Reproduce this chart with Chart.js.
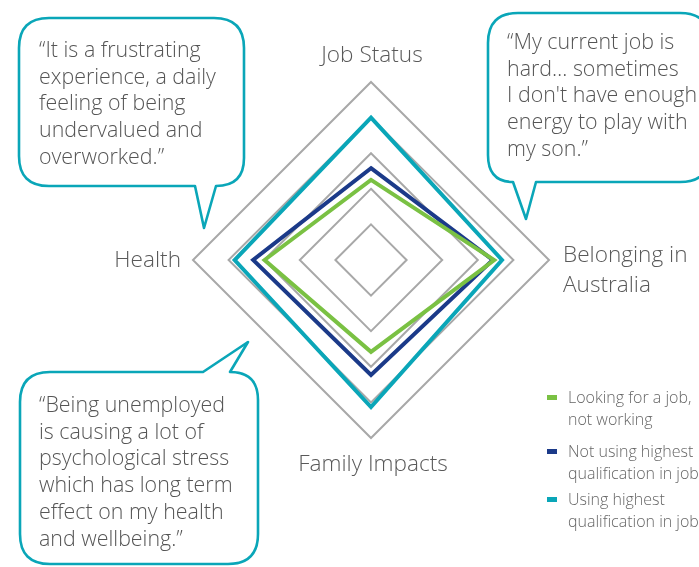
<!DOCTYPE html>
<html>
<head>
<meta charset="utf-8">
<script src="https://cdn.jsdelivr.net/npm/chart.js@4.4.1/dist/chart.umd.min.js"></script>
<style>
  html, body { margin: 0; padding: 0; background: #fff; }
  #wrap { position: relative; width: 699px; height: 567px; overflow: hidden; background: #fff; }
  #c { position: absolute; left: 0; top: 0; }
  svg { position: absolute; left: 0; top: 0; }
  .quote { position: absolute; font-family: "Open Sans", sans-serif; font-weight: 300; font-size: 21.4px; line-height: 26.7px; color: #555; white-space: nowrap; }
  .leg { position: absolute; left: 547px; font-family: "Open Sans", sans-serif; font-weight: 300; font-size: 16px; line-height: 21.5px; color: #666; white-space: nowrap; }
  .leg .sw { position: absolute; left: 0; top: 8px; width: 10px; height: 5px; }
  .leg .tx { position: absolute; left: 21px; top: 0; }
</style>
</head>
<body>
<div id="wrap">
  <canvas id="c" width="699" height="567"></canvas>
  <svg width="699" height="567" viewBox="0 0 699 567">
    <g fill="#fff" stroke="#0aa6b8" stroke-width="2.6" stroke-linejoin="round">
      <path d="M 49 18 H 214 Q 244 18 244 48 V 158 Q 244 186 216 186 L 204 228 L 195 186 H 49 Q 19 186 19 156 V 48 Q 19 18 49 18 Z"/>
      <path d="M 518 13 H 680 Q 710 13 710 43 V 152 Q 710 182 680 182 H 536 L 526 219 L 513 182 Q 488 182 488 155 V 43 Q 488 13 518 13 Z"/>
      <path d="M 50 372 H 203 L 248 342 L 230 372 Q 258 372 258 400 V 534 Q 258 564 228 564 H 50 Q 20 564 20 534 V 402 Q 20 372 50 372 Z"/>
    </g>
  </svg>
  <div id="q1" class="quote" style="left:39px; top:36px;"></div>
  <div id="q2" class="quote" style="left:507px; top:28px;"></div>
  <div id="q3" class="quote" style="left:39px; top:391px;"></div>
  <div id="legend"></div>
</div>
<script>
// ---- data ----
const categories = [['Job Status'], ['Belonging in', 'Australia'], ['Family Impacts'], ['Health']];
const seriesNames = [
  ['Looking for a job,', 'not working'],
  ['Not using highest', 'qualification in job'],
  ['Using highest', 'qualification in job']
];
const lookingForJob = [2.25, 3.46, 2.58, 2.99];
const notUsingQualification = [2.58, 3.42, 3.23, 3.31];
const usingQualification = [4.0, 3.68, 4.13, 3.83];
const tickValues = [1, 2, 3, 4, 5];
const quote1 = ['\u201CIt is a frustrating', 'experience, a daily', 'feeling of being', 'undervalued and', 'overworked.\u201D'];
const quote2 = ['\u201CMy current job is', 'hard\u2026 sometimes', "I don't have enough", 'energy to play with', 'my son.\u201D'];
const quote3 = ['\u201CBeing unemployed', 'is causing a lot of', 'psychological stress', 'which has long term', 'effect on my health', 'and wellbeing.\u201D'];

// ---- styles ----
const colors = ['#7ac143', '#1b3a89', '#0aa6b8'];
const seriesData = [lookingForJob, notUsingQualification, usingQualification];

function fillQuote(id, lines) {
  const el = document.getElementById(id);
  lines.forEach((l, i) => {
    if (i) el.appendChild(document.createElement('br'));
    el.appendChild(document.createTextNode(l));
  });
}
fillQuote('q1', quote1);
fillQuote('q2', quote2);
fillQuote('q3', quote3);

const legendTops = [387, 441, 489];
const legend = document.getElementById('legend');
seriesNames.forEach((name, i) => {
  const g = document.createElement('div');
  g.className = 'leg';
  g.style.top = legendTops[i] + 'px';
  const sw = document.createElement('div');
  sw.className = 'sw';
  sw.style.background = colors[i];
  const tx = document.createElement('div');
  tx.className = 'tx';
  name.forEach((l, j) => {
    if (j) tx.appendChild(document.createElement('br'));
    tx.appendChild(document.createTextNode(l));
  });
  g.appendChild(sw);
  g.appendChild(tx);
  legend.appendChild(g);
});

const labelPlugin = {
  id: 'pointLabelsCustom',
  afterDraw(chart) {
    const s = chart.scales.r;
    const ctx = chart.ctx;
    ctx.save();
    ctx.font = '300 22.6px "Open Sans", sans-serif';
    ctx.fillStyle = '#595959';
    ctx.textBaseline = 'alphabetic';
    categories.forEach((lines, i) => {
      const p = s.getPointPosition(i, s.drawingArea);
      if (i === 0) {
        ctx.textAlign = 'center';
        ctx.fillText(lines[0], p.x + 1, p.y - 20.5);
      } else if (i === 1) {
        ctx.textAlign = 'left';
        lines.forEach((l, j) => ctx.fillText(l, p.x + 14, p.y + 1.7 + j * 30));
      } else if (i === 2) {
        ctx.textAlign = 'center';
        ctx.fillText(lines[0], p.x + 2, p.y + 33);
      } else {
        ctx.textAlign = 'right';
        ctx.fillText(lines[0], p.x - 12, p.y + 6.7);
      }
    });
    ctx.restore();
  }
};

new Chart(document.getElementById('c'), {
  type: 'radar',
  data: {
    labels: categories.map(c => c.join(' ')),
    datasets: seriesData.map((d, i) => ({
      label: seriesNames[i].join(' '),
      data: d,
      borderColor: colors[i],
      backgroundColor: 'transparent',
      borderWidth: 4,
      borderJoinStyle: 'miter',
      pointRadius: 0,
      pointHoverRadius: 0,
      fill: false,
      tension: 0
    }))
  },
  options: {
    responsive: false,
    devicePixelRatio: 1,
    animation: false,
    events: [],
    layout: { padding: { left: 193, right: 150, top: 82, bottom: 129 } },
    plugins: { legend: { display: false }, tooltip: { enabled: false } },
    scales: {
      r: {
        min: 0,
        max: tickValues[tickValues.length - 1],
        afterBuildTicks(scale) { scale.ticks = [{ value: 0 }].concat(tickValues.map(v => ({ value: v }))); },
        ticks: { display: false, stepSize: 1 },
        grid: { color: '#a8a8a8', lineWidth: 2 },
        angleLines: { display: false },
        pointLabels: { display: false }
      }
    }
  },
  plugins: [labelPlugin]
});
</script>
</body>
</html>
